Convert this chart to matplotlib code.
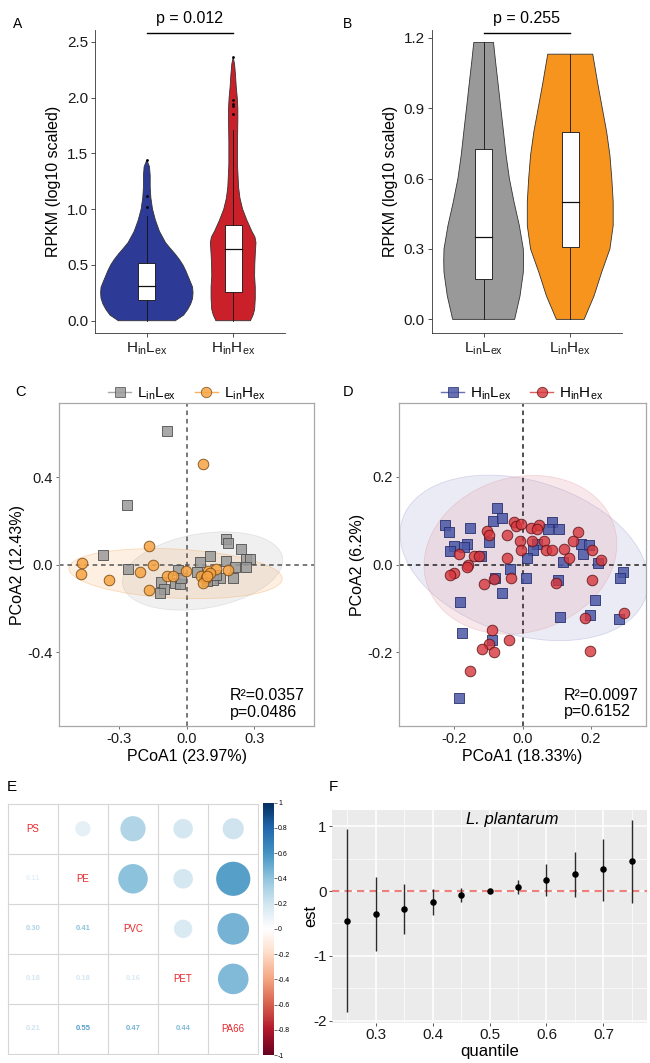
import matplotlib
matplotlib.use("Agg")
import matplotlib.pyplot as plt
from matplotlib.colors import LinearSegmentedColormap, Normalize
from matplotlib.cm import ScalarMappable
from matplotlib.lines import Line2D
from matplotlib.patches import Circle, Ellipse, Rectangle
from matplotlib.ticker import MultipleLocator
import numpy as np

plt.rcParams["font.family"] = ["Liberation Sans", "DejaVu Sans"]
plt.rcParams["mathtext.fontset"] = "custom"
plt.rcParams["mathtext.rm"] = "Liberation Sans"
plt.rcParams["axes.unicode_minus"] = False

W, H = 650, 1063

# ---------------- data ----------------
# panel A: violin outlines (y level, half width) + box stats
A_LABELS = [r"H$_\mathregular{in}$L$_\mathregular{ex}$", r"H$_\mathregular{in}$H$_\mathregular{ex}$"]
A_COLORS = ["#2D3B96", "#C9202A"]
A_PROF_Y = [
    [0, 0.05, 0.1, 0.15, 0.2, 0.25, 0.3, 0.35, 0.4, 0.45, 0.5, 0.55, 0.6, 0.65,
     0.7, 0.8, 0.9, 1.0, 1.1, 1.2, 1.3, 1.38, 1.44],
    [0, 0.05, 0.1, 0.2, 0.3, 0.4, 0.5, 0.6, 0.7, 0.75, 0.8, 0.9, 1.0, 1.1, 1.2,
     1.4, 1.6, 1.8, 1.9, 2.0, 2.1, 2.2, 2.3, 2.36],
]
A_PROF_W = [
    [0.33, 0.426, 0.473, 0.508, 0.53, 0.535, 0.53, 0.504, 0.477, 0.45, 0.418,
     0.376, 0.326, 0.27, 0.217, 0.147, 0.1, 0.066, 0.047, 0.039, 0.039, 0.031, 0.0],
    [0.2, 0.23, 0.248, 0.256, 0.256, 0.248, 0.25, 0.256, 0.264, 0.252, 0.217,
     0.159, 0.109, 0.078, 0.062, 0.05, 0.05, 0.054, 0.054, 0.047, 0.035, 0.027,
     0.016, 0.0],
]
A_BOX = [(0.19, 0.31, 0.52, 0.0, 0.94), (0.26, 0.64, 0.86, 0.0, 1.71)]
A_OUTLIERS = [[1.02, 1.12, 1.44], [1.85, 1.92, 1.94, 1.98, 2.36]]
A_PVALUE = "p = 0.012"

# panel B
B_LABELS = [r"L$_\mathregular{in}$L$_\mathregular{ex}$", r"L$_\mathregular{in}$H$_\mathregular{ex}$"]
B_COLORS = ["#999999", "#F7941D"]
B_PROF_Y = [
    [0, 0.1, 0.2, 0.25, 0.3, 0.4, 0.5, 0.6, 0.7, 0.8, 0.9, 1.0, 1.1, 1.18],
    [0, 0.1, 0.2, 0.3, 0.4, 0.5, 0.6, 0.7, 0.8, 0.9, 1.0, 1.13],
]
B_PROF_W = [
    [0.358, 0.42, 0.458, 0.461, 0.458, 0.412, 0.351, 0.297, 0.259, 0.229,
     0.198, 0.168, 0.137, 0.114],
    [0.16, 0.275, 0.362, 0.458, 0.496, 0.496, 0.48, 0.458, 0.42, 0.37, 0.32, 0.26],
]
B_BOX = [(0.17, 0.35, 0.725, 0.0, 1.18), (0.31, 0.50, 0.80, 0.0, 1.13)]
B_PVALUE = "p = 0.255"

# panel C: PCoA
C_LABELS = [r"L$_\mathregular{in}$L$_\mathregular{ex}$", r"L$_\mathregular{in}$H$_\mathregular{ex}$"]
C_GRAY_X = [-0.086, -0.265, -0.370, -0.262, 0.176, 0.183, 0.240, 0.102, 0.060,
            0.176, 0.262, 0.282, 0.263, 0.213, 0.047, 0.205, 0.146, 0.117,
            -0.040, -0.116, -0.054, -0.030, -0.101, -0.117, 0.077, 0.091,
            -0.025, 0.130]
C_GRAY_Y = [0.612, 0.273, 0.042, -0.022, 0.117, 0.099, 0.072, 0.040, 0.010,
            0.016, 0.028, 0.028, -0.009, -0.011, -0.032, -0.060, -0.060, -0.070,
            -0.025, -0.078, -0.083, -0.090, -0.110, -0.131, -0.050, -0.074,
            -0.060, -0.045]
C_ORANGE_X = [0.074, -0.465, -0.470, -0.344, -0.170, -0.150, -0.209, -0.166,
              -0.090, -0.062, -0.004, 0.096, 0.128, 0.183, 0.064, 0.086, 0.071,
              0.103, 0.090]
C_ORANGE_Y = [0.461, 0.006, -0.043, -0.070, 0.086, -0.003, -0.034, -0.118,
              -0.054, -0.052, -0.029, -0.029, -0.018, -0.025, -0.054, -0.062,
              -0.085, -0.040, -0.050]
# ellipses: centre x, centre y, semi-axis a, semi-axis b, angle
C_ELL_GRAY = (0.07, -0.029, 0.36, 0.17, 10)
C_ELL_ORANGE = (-0.05, -0.041, 0.474, 0.112, -3)
C_STATS = ["R²=0.0357", "p=0.0486"]
C_AXLABELS = ["PCoA1 (23.97%)", "PCoA2 (12.43%)"]

# panel D
D_LABELS = [r"H$_\mathregular{in}$L$_\mathregular{ex}$", r"H$_\mathregular{in}$H$_\mathregular{ex}$"]
D_BLUE_X = [-0.075, -0.088, -0.059, -0.228, -0.215, -0.154, -0.201, -0.213,
            -0.164, -0.172, -0.123, -0.098, 0.088, 0.108, 0.074, 0.042, 0.032,
            0.013, 0.172, 0.196, 0.179, 0.118, 0.223, 0.296, 0.286, -0.036,
            0.010, -0.081, -0.059, 0.103, -0.183, 0.214, 0.111, 0.199, 0.284,
            -0.179, -0.091, -0.186]
D_BLUE_Y = [0.128, 0.099, 0.105, 0.091, 0.073, 0.084, 0.042, 0.031, 0.046,
            0.039, 0.020, 0.052, 0.097, 0.080, 0.080, 0.046, 0.034, 0.014,
            0.046, 0.044, 0.024, 0.006, 0.004, -0.018, -0.030, -0.011, -0.030,
            -0.030, -0.064, -0.036, -0.086, -0.081, -0.119, -0.114, -0.123,
            -0.156, -0.171, -0.304]
D_RED_X = [-0.103, -0.098, -0.046, -0.025, -0.020, -0.003, 0.026, 0.049, 0.044,
           0.162, -0.007, -0.005, 0.029, 0.064, 0.069, 0.088, 0.121, 0.147,
           0.204, 0.137, 0.230, -0.186, -0.142, -0.127, -0.160, -0.164, -0.046,
           -0.201, -0.213, -0.083, -0.113, -0.034, 0.098, 0.205, 0.299, 0.184,
           -0.090, -0.041, -0.098, -0.118, -0.085, -0.155, 0.199]
D_RED_Y = [0.077, 0.067, 0.067, 0.097, 0.087, 0.092, 0.084, 0.090, 0.080,
           0.074, 0.053, 0.033, 0.053, 0.053, 0.033, 0.033, 0.035, 0.053,
           0.034, 0.014, 0.011, 0.025, 0.019, 0.019, -0.002, -0.005, 0.015,
           -0.020, -0.024, -0.032, -0.045, -0.030, -0.042, -0.036, -0.110,
           -0.121, -0.150, -0.171, -0.180, -0.193, -0.200, -0.242, -0.197]
D_ELL_BLUE = (0.005, 0.015, 0.37, 0.178, -11)
D_ELL_RED = (-0.006, 0.022, 0.285, 0.178, 8)
D_STATS = ["R²=0.0097", "p=0.6152"]
D_AXLABELS = ["PCoA1 (18.33%)", "PCoA2 (6.2%)"]

# panel E: correlation matrix
E_NAMES = ["PS", "PE", "PVC", "PET", "PA66"]
E_CORR = [
    [1.00, 0.11, 0.30, 0.18, 0.21],
    [0.11, 1.00, 0.41, 0.18, 0.55],
    [0.30, 0.41, 1.00, 0.16, 0.47],
    [0.18, 0.18, 0.16, 1.00, 0.44],
    [0.21, 0.55, 0.47, 0.44, 1.00],
]
CORRPLOT_COLS = ["#67001F", "#B2182B", "#D6604D", "#F4A582", "#FDDBC7", "#FFFFFF",
                 "#D1E5F0", "#92C5DE", "#4393C3", "#2166AC", "#053061"]

# panel F: quantile estimates
F_QUANTILE = [0.25, 0.30, 0.35, 0.40, 0.45, 0.50, 0.55, 0.60, 0.65, 0.70, 0.75]
F_EST = [-0.456, -0.354, -0.282, -0.164, -0.062, 0.0, 0.067, 0.169, 0.256, 0.333, 0.462]
F_LOW = [-1.872, -0.923, -0.662, -0.364, -0.174, 0.0, -0.041, -0.072, -0.097, -0.149, -0.179]
F_HIGH = [0.964, 0.21, 0.103, 0.031, 0.051, 0.0, 0.169, 0.41, 0.605, 0.81, 1.103]


def rect(x0, y0, x1, y1):
    """Pixel box (top-left origin) to figure fraction."""
    return [x0 / W, 1 - y1 / H, (x1 - x0) / W, (y1 - y0) / H]


def draw_violin(ax, pos, ys, ws, color):
    ys = np.asarray(ys)
    ws = np.asarray(ws)
    xs = np.concatenate([pos - ws, (pos + ws)[::-1]])
    yy = np.concatenate([ys, ys[::-1]])
    ax.fill(xs, yy, facecolor=color, edgecolor="#333333", lw=0.6, zorder=2)


def draw_box(ax, pos, stats, half=0.1):
    q1, med, q3, lo, hi = stats
    ax.plot([pos, pos], [lo, q1], color="#111111", lw=0.6, zorder=3)
    ax.plot([pos, pos], [q3, hi], color="#111111", lw=0.6, zorder=3)
    ax.add_patch(Rectangle((pos - half, q1), 2 * half, q3 - q1, facecolor="white",
                           edgecolor="#111111", lw=0.6, zorder=4))
    ax.plot([pos - half, pos + half], [med, med], color="#111111", lw=0.9, zorder=5)


def style_classic(ax):
    for side in ["top", "right"]:
        ax.spines[side].set_visible(False)
    for side in ["left", "bottom"]:
        ax.spines[side].set_linewidth(0.6)
        ax.spines[side].set_color("#333333")
    ax.tick_params(length=3, width=0.6, color="#333333", labelsize=11,
                   labelcolor="#1a1a1a", pad=2)


def violin_panel(ax, labels, colors, prof_y, prof_w, boxes, pvalue, ylim, yticks,
                 bracket_y, text_y, outliers=None):
    for i in range(2):
        draw_violin(ax, i + 1, prof_y[i], prof_w[i], colors[i])
        draw_box(ax, i + 1, boxes[i])
        if outliers is not None:
            ax.scatter([i + 1] * len(outliers[i]), outliers[i], s=4, color="black",
                       zorder=6, linewidths=0)
    ax.plot([1, 2], [bracket_y, bracket_y], color="black", lw=1.0, clip_on=False)
    ax.text(1.5, text_y, pvalue, ha="center", va="bottom", fontsize=11.5)
    ax.set_xlim(0.4, 2.6)
    ax.set_ylim(*ylim)
    ax.set_xticks([1, 2])
    ax.set_xticklabels(labels)
    ax.set_yticks(yticks)
    ax.set_yticklabels([f"{t:.1f}" for t in yticks])
    ax.set_ylabel("RPKM (log10 scaled)", fontsize=11.5, labelpad=4)
    style_classic(ax)


def add_ellipse(ax, params, color, alpha):
    cx, cy, a, b, ang = params
    ax.add_patch(Ellipse((cx, cy), 2 * a, 2 * b, angle=ang, facecolor=color,
                         edgecolor="none", alpha=alpha, zorder=1))
    ax.add_patch(Ellipse((cx, cy), 2 * a, 2 * b, angle=ang, facecolor="none",
                         edgecolor=color, alpha=0.35, lw=0.6, zorder=1))


def pcoa_panel(ax, groups, labels, stats, axlabels, lim, ticks, dash_color):
    for xs, ys, marker, face, edge, alpha in groups:
        ax.scatter(xs, ys, marker=marker, s=58 if marker == "o" else 50,
                   facecolor=face, edgecolor=edge, linewidths=0.7, alpha=alpha,
                   zorder=3)
    ax.axhline(0, color=dash_color, ls=(0, (3, 2.5)), lw=1.1, zorder=2)
    ax.axvline(0, color=dash_color, ls=(0, (3, 2.5)), lw=1.1, zorder=2)
    ax.set_xlim(-lim[0], lim[0])
    ax.set_ylim(-lim[1], lim[1])
    ax.set_xticks(ticks[0])
    ax.set_xticklabels([f"{t:.1f}" for t in ticks[0]])
    ax.set_yticks(ticks[1])
    ax.set_yticklabels([f"{t:.1f}" for t in ticks[1]])
    ax.set_xlabel(axlabels[0], fontsize=11.5, labelpad=2)
    ax.set_ylabel(axlabels[1], fontsize=11.5, labelpad=2)
    for sp in ax.spines.values():
        sp.set_color("#A8A8A8")
        sp.set_linewidth(0.9)
    ax.tick_params(length=2.5, width=0.6, color="#555555", labelsize=10.5,
                   labelcolor="#1a1a1a", pad=2)
    ax.text(0.669, 0.094, stats[0], transform=ax.transAxes, fontsize=11.5,
            va="center", ha="left")
    ax.text(0.669, 0.043, stats[1], transform=ax.transAxes, fontsize=11.5,
            va="center", ha="left")
    handles = []
    for xs, ys, marker, face, edge, alpha in groups:
        handles.append(Line2D([0], [0], color=face, lw=1.0, marker=marker,
                              markersize=7.5, markerfacecolor=face,
                              markeredgecolor=edge, markeredgewidth=0.6,
                              alpha=alpha))
    ax.legend(handles, labels, loc="lower center", bbox_to_anchor=(0.5, 0.995),
              ncol=2, frameon=False, fontsize=11, handlelength=1.5,
              handletextpad=0.4, columnspacing=1.2, borderaxespad=0.0,
              borderpad=0.2)


fig = plt.figure(figsize=(W / 100, H / 100), dpi=100)

# ---------------- A ----------------
axA = fig.add_axes(rect(95, 30, 285, 333))
violin_panel(axA, A_LABELS, A_COLORS, A_PROF_Y, A_PROF_W, A_BOX, A_PVALUE,
             (-0.11, 2.605), [0.0, 0.5, 1.0, 1.5, 2.0, 2.5], 2.58, 2.645,
             outliers=A_OUTLIERS)

# ---------------- B ----------------
axB = fig.add_axes(rect(431.7, 30, 622.2, 333))
violin_panel(axB, B_LABELS, B_COLORS, B_PROF_Y, B_PROF_W, B_BOX, B_PVALUE,
             (-0.058, 1.233), [0.0, 0.3, 0.6, 0.9, 1.2], 1.221, 1.252)

# ---------------- C ----------------
axC = fig.add_axes(rect(59.3, 403.3, 314.3, 726))
add_ellipse(axC, C_ELL_GRAY, "#BDBDBD", 0.22)
add_ellipse(axC, C_ELL_ORANGE, "#F5A04A", 0.16)
pcoa_panel(axC,
           [(C_GRAY_X, C_GRAY_Y, "s", "#9A9A9A", "#4D4D4D", 0.85),
            (C_ORANGE_X, C_ORANGE_Y, "o", "#F7A443", "#7A4A12", 0.85)],
           C_LABELS, C_STATS, C_AXLABELS, (0.566, 0.737),
           ([-0.3, 0.0, 0.3], [-0.4, 0.0, 0.4]), "#555555")

# ---------------- D ----------------
axD = fig.add_axes(rect(399, 403.3, 646, 725.7))
add_ellipse(axD, D_ELL_BLUE, "#9C9CCF", 0.2)
add_ellipse(axD, D_ELL_RED, "#E09AA4", 0.22)
pcoa_panel(axD,
           [(D_BLUE_X, D_BLUE_Y, "s", "#4B57A6", "#262E6B", 0.85),
            (D_RED_X, D_RED_Y, "o", "#D7363C", "#5A1014", 0.8)],
           D_LABELS, D_STATS, D_AXLABELS, (0.363, 0.367),
           ([-0.2, 0.0, 0.2], [-0.2, 0.0, 0.2]), "#222222")

# ---------------- E ----------------
cmap = LinearSegmentedColormap.from_list("corrplot", CORRPLOT_COLS)
norm = Normalize(-1, 1)
axE = fig.add_axes(rect(6.7, 802.7, 259.3, 1055))
n = len(E_NAMES)
for i in range(n):
    for j in range(n):
        r = E_CORR[i][j]
        if i == j:
            axE.text(j + 0.5, i + 0.5, E_NAMES[i], color="#E8262B", fontsize=7,
                     ha="center", va="center")
        elif j > i:
            axE.add_patch(Circle((j + 0.5, i + 0.5), 0.46 * np.sqrt(abs(r)),
                                 facecolor=cmap(norm(r)), edgecolor="none"))
        else:
            axE.text(j + 0.5, i + 0.5, f"{r:.2f}", color=cmap(norm(r)),
                     fontsize=5.5, fontweight="bold", ha="center", va="center")
for k in range(n + 1):
    axE.plot([0, n], [k, k], color="#D6D6D6", lw=0.8)
    axE.plot([k, k], [0, n], color="#D6D6D6", lw=0.8)
axE.set_xlim(-0.02, n + 0.02)
axE.set_ylim(n + 0.02, -0.02)
axE.set_aspect("auto")
axE.axis("off")

caxE = fig.add_axes(rect(263.3, 802.7, 274, 1055))
cb = fig.colorbar(ScalarMappable(norm=norm, cmap=cmap), cax=caxE)
cb.set_ticks(np.round(np.linspace(-1, 1, 11), 1))
cb.set_ticklabels([f"{t:g}" for t in np.round(np.linspace(-1, 1, 11), 1)])
cb.outline.set_visible(False)
caxE.tick_params(labelsize=5, length=2, width=0.4, pad=1)

# ---------------- F ----------------
axF = fig.add_axes(rect(332.3, 810, 646.7, 1022.7))
axF.set_facecolor("#EBEBEB")
axF.axhline(0, color="#EE7F7A", ls=(0, (3.5, 2.5)), lw=1.5, zorder=2)
axF.vlines(F_QUANTILE, F_LOW, F_HIGH, color="#2B2B2B", lw=1.0, zorder=3)
axF.scatter(F_QUANTILE, F_EST, s=22, color="black", zorder=4, linewidths=0)
axF.set_xlim(0.224, 0.776)
axF.set_ylim(-2.03, 1.25)
axF.set_xticks([0.3, 0.4, 0.5, 0.6, 0.7])
axF.set_xticklabels(["0.3", "0.4", "0.5", "0.6", "0.7"])
axF.set_yticks([-2, -1, 0, 1])
axF.set_yticklabels(["-2", "-1", "0", "1"])
axF.xaxis.set_minor_locator(MultipleLocator(0.05))
axF.yaxis.set_minor_locator(MultipleLocator(0.5))
axF.grid(which="major", color="white", lw=1.1)
axF.grid(which="minor", color="white", lw=0.5)
axF.set_axisbelow(True)
for sp in axF.spines.values():
    sp.set_visible(False)
axF.tick_params(which="major", length=2.5, width=0.6, color="#333333",
                labelsize=11, labelcolor="#1a1a1a", pad=1.5)
axF.tick_params(which="minor", length=0)
axF.set_xlabel("quantile", fontsize=12, labelpad=1)
axF.set_ylabel("est", fontsize=12)
axF.yaxis.set_label_coords(-0.045, 0.5)
axF.text(0.571, 0.956, "L. plantarum", transform=axF.transAxes, fontsize=12,
         style="italic", ha="center", va="center")

# panel letters
for letter, x, y, size in [("A", 18, 24, 10), ("B", 348, 24, 10),
                           ("C", 20, 392, 10.5), ("D", 348, 392, 10.5),
                           ("E", 12, 787, 11), ("F", 333, 787, 11)]:
    fig.text(x / W, 1 - y / H, letter, fontsize=size, ha="center", va="center")

fig.savefig("out.png", dpi=100)
